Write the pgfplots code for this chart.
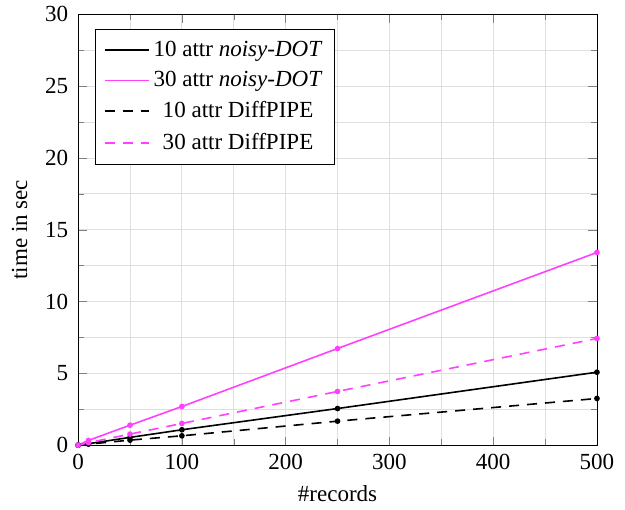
\documentclass[border=0pt]{standalone}
\usepackage{pgfplots}
\pgfplotsset{compat=1.18}
\usepackage{fontspec}
\setmainfont{Liberation Serif}
\definecolor{dotmag}{RGB}{255,64,255}

\begin{document}
\begin{tikzpicture}[font=\fontsize{11.5}{14}\selectfont]
  \begin{axis}[
    scale only axis,
    width = 259pt,
    height = 215pt,
    xmin = 0, xmax = 500,
    ymin = 0, ymax = 30,
    xtick = {0,100,...,500},
    ytick = {0,5,...,30},
    minor tick num = 1,
    grid = both,
    grid style = {gray!25},
    minor grid style = {gray!25},
    tick style = {gray},
    /pgf/number format/assume math mode=true,
    xticklabel style = {yshift=-1pt},
    yticklabel style = {xshift=-1.5pt},
    xlabel = {\#records},
    ylabel = {time in sec},
    xlabel style = {yshift=-1pt},
    ylabel style = {yshift=2pt},
    legend style = {at={(0.033,0.967)}, anchor=north west, draw=black,
                    row sep=2pt, inner xsep=4pt, inner ysep=4pt},
    legend cell align = center,
    legend image code/.code = {\draw[#1, mark=none, line width=0.9pt] (0pt,0pt) -- (22pt,0pt);},
    every axis plot/.append style = {line width=0.8pt, mark=*, mark size=1pt},
  ]
    \addplot[black, solid] coordinates {
      (0,0)(10,0.10)(50,0.54)(100,1.07)(250,2.55)(500,5.08)
    };
    \addlegendentry{10 attr \textit{noisy-DOT}}
    \addplot[dotmag, solid, mark options={fill=dotmag}] coordinates {
      (0,0)(10,0.33)(50,1.39)(100,2.69)(250,6.73)(500,13.42)
    };
    \addlegendentry{30 attr \textit{noisy-DOT}}
    \addplot[black, dash pattern=on 5pt off 4pt, mark options={solid}] coordinates {
      (0,0)(10,0.07)(50,0.35)(100,0.65)(250,1.67)(500,3.25)
    };
    \addlegendentry{10 attr DiffPIPE}
    \addplot[dotmag, dash pattern=on 5pt off 4pt, mark options={solid, fill=dotmag}] coordinates {
      (0,0)(10,0.17)(50,0.77)(100,1.51)(250,3.74)(500,7.43)
    };
    \addlegendentry{30 attr DiffPIPE}
  \end{axis}
  % blank room round the axis as in the reference
  \path (current axis.south west) ++(-39pt,-32pt);
  \path (current axis.north east) ++(14pt,6.5pt);
\end{tikzpicture}
\end{document}
